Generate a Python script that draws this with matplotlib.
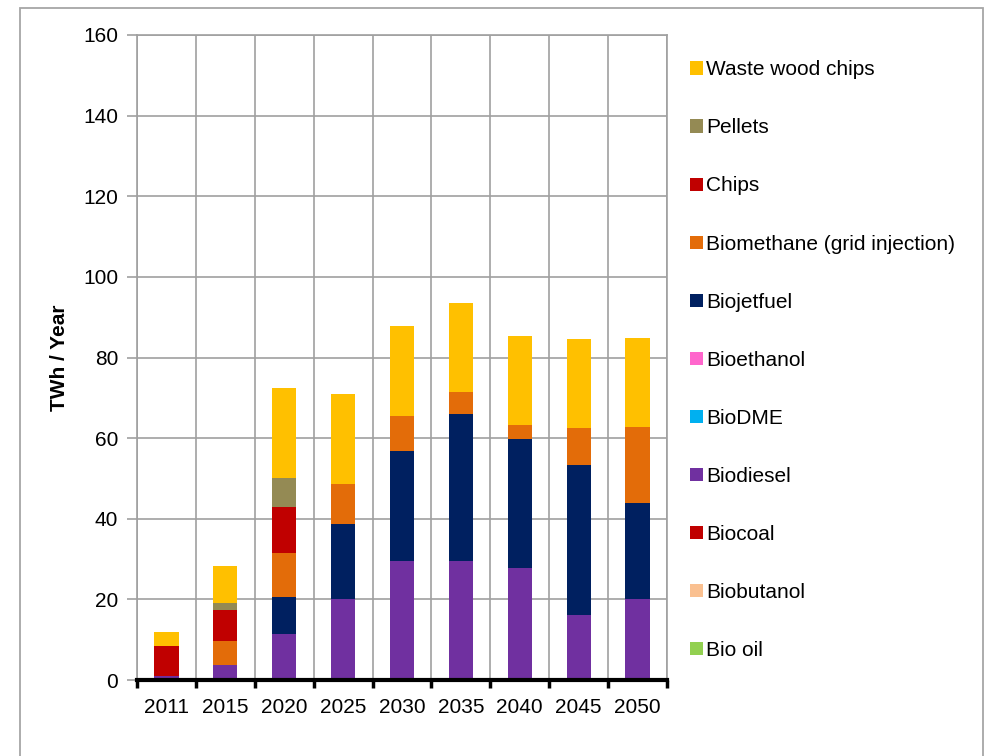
import matplotlib
matplotlib.use("Agg")
import matplotlib.pyplot as plt
from matplotlib.patches import Rectangle, Patch
import numpy as np

plt.rcParams['font.family'] = ['Liberation Sans', 'DejaVu Sans']

years = ["2011", "2015", "2020", "2025", "2030", "2035", "2040", "2045", "2050"]

# stacking order bottom -> top
series_names = ["Bio oil", "Biobutanol", "Biocoal", "Biodiesel", "BioDME", "Bioethanol",
                "Biojetfuel", "Biomethane (grid injection)", "Chips", "Pellets", "Waste wood chips"]
colors = ["#92D050", "#FAC090", "#C00000", "#7030A0", "#00B0F0", "#FF66CC",
          "#002060", "#E36C09", "#C00000", "#948A54", "#FFC000"]

bio_oil     = [0, 0, 0, 0, 0, 0, 0, 0, 0]
biobutanol  = [0, 0, 0, 0, 0, 0, 0, 0, 0]
biocoal     = [0, 0, 0, 0, 0, 0, 0, 0, 0]
biodiesel   = [1.1, 3.6, 11.5, 20.2, 29.5, 29.5, 27.8, 16.2, 20.0]
biodme      = [0, 0, 0, 0, 0, 0, 0, 0, 0]
bioethanol  = [0, 0, 0, 0, 0, 0, 0, 0, 0]
biojetfuel  = [0, 0, 9.1, 18.5, 27.4, 36.6, 32.0, 37.2, 24.0]
biomethane  = [0, 6.1, 10.9, 9.9, 8.7, 5.3, 3.4, 9.0, 18.7]
chips       = [7.4, 7.7, 11.4, 0, 0, 0, 0, 0, 0]
pellets     = [0, 1.6, 7.1, 0, 0, 0, 0, 0, 0]
waste_wood  = [3.3, 9.2, 22.5, 22.4, 22.1, 22.1, 22.1, 22.1, 22.1]

data = [bio_oil, biobutanol, biocoal, biodiesel, biodme, bioethanol,
        biojetfuel, biomethane, chips, pellets, waste_wood]

FS = 15

fig = plt.figure(figsize=(9.86, 7.56), dpi=100)
fig.patches.append(Rectangle((20/986, -0.1), (983-20)/986, 1.1 - 8/756,
                             transform=fig.transFigure, fill=False,
                             edgecolor="#A6A6A6", linewidth=1.3, zorder=0))

ax = fig.add_axes([137/986, 76/756, 530/986, 645/756])
x = np.arange(len(years))
bottom = np.zeros(len(years))
handles = []
for name, col, vals in zip(series_names, colors, data):
    v = np.array(vals, dtype=float)
    ax.bar(x, v, bottom=bottom, width=0.41, color=col, edgecolor="none", zorder=3)
    bottom += v
    handles.append(Patch(facecolor=col, edgecolor="none", label=name))

ax.set_xlim(-0.5, len(years) - 0.5)
ax.set_ylim(0, 160)
ax.set_yticks(np.arange(0, 161, 20))
ax.set_xticks(x)
ax.set_xticklabels(years)
ax.set_xticks(np.arange(-0.5, len(years), 1.0), minor=True)
ax.tick_params(axis='x', which='major', length=0, labelsize=FS, pad=13)
ax.tick_params(axis='x', which='minor', length=6, width=2.5, color='black', direction='out')
ax.tick_params(axis='y', length=7, width=1.2, color='#A0A0A0', labelsize=FS, pad=6.5)

ax.grid(axis='y', color='#A0A0A0', linewidth=1.2, zorder=0)
ax.grid(axis='x', which='minor', color='#A0A0A0', linewidth=1.2, zorder=0)
ax.grid(axis='x', which='major', visible=False)
for s in ['top', 'right']:
    ax.spines[s].set_visible(True)
    ax.spines[s].set_color('#A0A0A0')
    ax.spines[s].set_linewidth(1.2)
ax.spines['left'].set_color('#A0A0A0')
ax.spines['left'].set_linewidth(1.2)
ax.spines['bottom'].set_color('black')
ax.spines['bottom'].set_linewidth(3)
ax.spines['bottom'].set_zorder(5)

ax.set_ylabel("TWh / Year", fontsize=FS, fontweight='bold')
ax.yaxis.set_label_coords(-(137 - 69) / 530, 0.5)

leg = fig.legend(handles=handles[::-1], loc='upper left',
                 bbox_to_anchor=(682/986, 1 - 52/756), frameon=False,
                 fontsize=FS, handlelength=0.6, handleheight=0.6,
                 handletextpad=0.15, labelspacing=1.875, borderaxespad=0)

fig.savefig("out.png", dpi=100)
